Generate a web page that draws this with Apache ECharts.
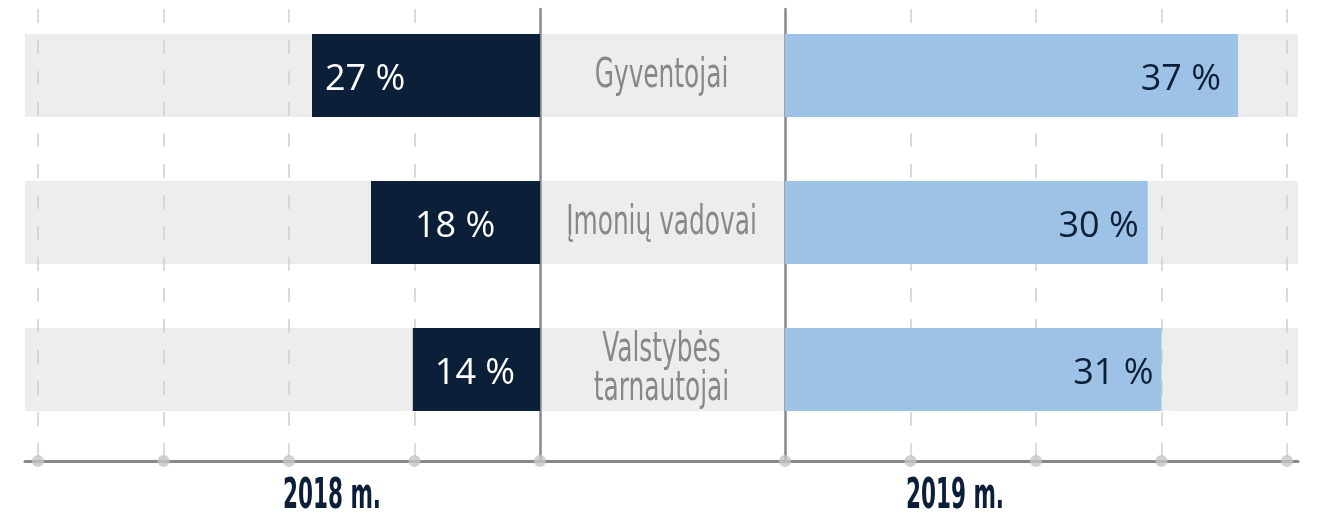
<!DOCTYPE html>
<html>
<head>
<meta charset="utf-8">
<script src="https://cdn.jsdelivr.net/npm/echarts@6/dist/echarts.min.js"></script>
<style>
  html, body { margin: 0; padding: 0; background: #fff; }
  #chart { width: 1319px; height: 520px; }
</style>
</head>
<body>
<div id="chart"></div>
<script>
const categories = ["Gyventojai", "Įmonių vadovai", "Valstybės\ntarnautojai"];
const years = ["2018 m.", "2019 m."];
// shares printed on the bars
const share2018 = [27, 18, 14];
const share2019 = [37, 30, 31];
// bar lengths as drawn in the picture (not exactly proportional to the labels)
const bar2018 = [27.25, 20.2, 15.2];
const bar2019 = [36.1, 28.9, 30.0];
const ticks2018 = [0, 15, 30, 45, 60];
const ticks2019 = [0, 10, 20, 30, 40];

const NAVY = "#0c1f38";
const BLUE = "#9dc2e6";
const BAND = "#ecedec";
const LINE = "#87888b";
// no narrow font installed, so condensed DejaVu gets squeezed a bit more
const narrow = "'DejaVu Sans Condensed', 'DejaVu Sans', sans-serif";

// label offsets inside the bars
const leftLabelGap = [13, 44, 22];
const rightLabelGap = [17, 9, 8];

const chart = echarts.init(document.getElementById("chart"));

const frameX = (grid, max, interval, inverse) => ({
  gridIndex: grid,
  type: "value",
  min: 0,
  max: max,
  interval: interval,
  inverse: inverse,
  z: 1,
  axisLine: { show: false },
  axisTick: { show: false },
  axisLabel: { show: false },
  splitLine: {
    show: true,
    showMinLine: false,
    lineStyle: { color: "#d0d0d0", width: 1.5, type: [14, 17] },
  },
});

const frameY = (grid, position) => ({
  gridIndex: grid,
  type: "value",
  min: 0,
  max: 1,
  position: position,
  z: 1,
  axisLine: { show: true, onZero: false, lineStyle: { color: LINE, width: 2.5 } },
  axisTick: { show: false },
  axisLabel: { show: false },
  splitLine: { show: false },
});

const dots = (axis, ticks) => ({
  type: "scatter",
  xAxisIndex: axis,
  yAxisIndex: axis,
  data: ticks.map((t) => [t, 0]),
  symbolSize: 12,
  itemStyle: { color: "#c4c5c7" },
  clip: false,
  silent: true,
  z: 4,
});

const numberLabel = {
  show: true,
  fontFamily: "'Open Sans', sans-serif",
  fontSize: 36,
  offset: [0, 4],
};

const yearText = (text, x) => ({
  type: "text",
  x: x,
  y: 497,
  scaleX: 0.57,
  style: {
    text: text,
    align: "center",
    verticalAlign: "middle",
    font: "bold 42px " + narrow,
    fill: NAVY,
  },
});

chart.setOption({
  animation: false,
  grid: [
    { left: 25, right: 21, top: 2, height: 441 },
    { left: 38, width: 502, top: 2, height: 441 },
    { left: 785, width: 502, top: 2, height: 441 },
    { left: 38, width: 502, top: 9, height: 452 },
    { left: 785, width: 502, top: 9, height: 452 },
  ],
  xAxis: [
    {
      gridIndex: 0,
      type: "value",
      min: 0,
      max: 1,
      offset: 18,
      axisLine: { show: true, lineStyle: { color: LINE, width: 3 } },
      axisTick: { show: false },
      axisLabel: { show: false },
      splitLine: { show: false },
    },
    { gridIndex: 1, type: "value", min: 0, max: 60, inverse: true, show: false },
    { gridIndex: 2, type: "value", min: 0, max: 40, show: false },
    frameX(3, 60, 15, true),
    frameX(4, 40, 10, false),
  ],
  yAxis: [
    { gridIndex: 0, type: "category", data: categories, inverse: true, show: false },
    { gridIndex: 1, type: "category", data: categories, inverse: true, show: false },
    { gridIndex: 2, type: "category", data: categories, inverse: true, show: false },
    frameY(3, "right"),
    frameY(4, "left"),
  ],
  series: [
    {
      type: "bar",
      xAxisIndex: 0,
      yAxisIndex: 0,
      data: categories.map(() => 1),
      barWidth: 83,
      itemStyle: { color: BAND },
      silent: true,
      z: 0,
    },
    {
      // category names in the middle column, squeezed to look like a narrow face
      type: "custom",
      xAxisIndex: 0,
      yAxisIndex: 0,
      data: categories.map((c, i) => [0.5, i]),
      silent: true,
      z: 3,
      renderItem: (params, api) => {
        const p = api.coord([api.value(0), api.value(1)]);
        return {
          type: "text",
          x: p[0],
          y: p[1] + 1,
          scaleX: 0.69,
          style: {
            text: categories[params.dataIndex],
            align: "center",
            verticalAlign: "middle",
            font: "40px " + narrow,
            lineHeight: 39,
            fill: LINE,
          },
        };
      },
    },
    {
      type: "bar",
      name: years[0],
      xAxisIndex: 1,
      yAxisIndex: 1,
      data: bar2018.map((v, i) => ({ value: v, label: { distance: leftLabelGap[i] } })),
      barWidth: 83,
      itemStyle: { color: NAVY },
      label: Object.assign({}, numberLabel, {
        position: "insideLeft",
        formatter: (p) => share2018[p.dataIndex] + " %",
        color: "#fff",
      }),
      z: 2,
    },
    {
      type: "bar",
      name: years[1],
      xAxisIndex: 2,
      yAxisIndex: 2,
      data: bar2019.map((v, i) => ({ value: v, label: { distance: rightLabelGap[i] } })),
      barWidth: 83,
      itemStyle: { color: BLUE },
      label: Object.assign({}, numberLabel, {
        position: "insideRight",
        formatter: (p) => share2019[p.dataIndex] + " %",
        color: NAVY,
      }),
      z: 2,
    },
    dots(3, ticks2018),
    dots(4, ticks2019),
  ],
  graphic: [yearText(years[0], 332), yearText(years[1], 955)],
});
</script>
</body>
</html>
